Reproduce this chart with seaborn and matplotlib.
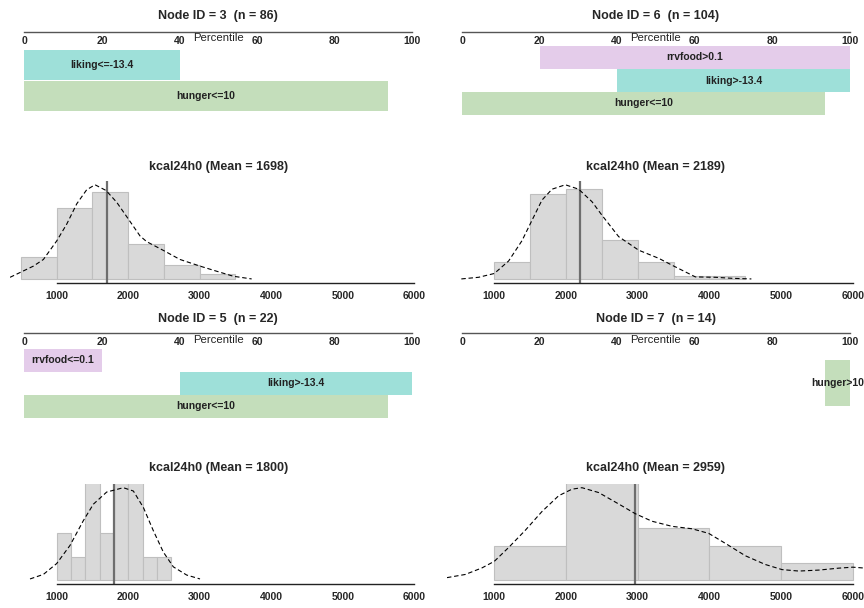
import numpy as np
import pandas as pd
import matplotlib
matplotlib.use("Agg")
import matplotlib.pyplot as plt
import seaborn as sns

sns.set_style("white")
plt.rcParams["font.family"] = ["Liberation Sans", "DejaVu Sans"]

# terminal nodes of the tree, in panel order
node_ids = [3, 6, 5, 7]
node_n = [86, 104, 22, 14]
node_means = [1698, 2189, 1800, 2959]

# split rules on the percentile scale
rule_labels = [
    ["liking<=-13.4", "hunger<=10"],
    ["rrvfood>0.1", "liking>-13.4", "hunger<=10"],
    ["rrvfood<=0.1", "liking>-13.4", "hunger<=10"],
    ["hunger>10"],
]
rule_start = [[0, 0], [20, 40, 0], [0, 40, 0], [93.7]]
rule_end = [[40, 93.7], [100, 100, 93.7], [20, 100, 93.7], [100]]
rule_colors = {"rrvfood": "#E4CCEA", "liking": "#9EE0D9", "hunger": "#C4DEBB"}

# kcal24h0 histograms (counts per bin)
hist_edges = [
    [500, 1000, 1500, 2000, 2500, 3000, 3500],
    [1000, 1500, 2000, 2500, 3000, 3500, 4000, 4500],
    [1000, 1200, 1400, 1600, 1800, 2000, 2200, 2400, 2600],
    [1000, 2000, 3000, 4000, 5000, 6000],
]
hist_counts = [
    [8, 26, 32, 13, 5, 2],
    [7, 35, 37, 16, 7, 1, 1],
    [2, 1, 5, 2, 5, 5, 1, 1],
    [2, 6, 3, 2, 1],
]

# density curves (density x 1e-4)
dens_x = [
    [348, 674, 814, 1000, 1140, 1280, 1419, 1536, 1690, 1839, 2002, 2165, 2258,
     2491, 2724, 3004, 3237, 3470, 3726],
    [540, 781, 1000, 1200, 1386, 1502, 1665, 1805, 1991, 2177, 2363, 2502, 2735,
     3014, 3293, 3502, 3805, 4084, 4316, 4586],
    [627, 814, 1000, 1186, 1373, 1513, 1699, 1932, 2072, 2212, 2351, 2491, 2631,
     2817, 3004],
    [340, 595, 828, 1000, 1200, 1433, 1665, 1898, 2084, 2223, 2456, 2735, 2967,
     3200, 3479, 3758, 3991, 4223, 4502, 4781, 5014, 5247, 5526, 5805, 6000, 6177],
]
dens_y = [
    [0.14, 1.10, 1.67, 3.26, 4.70, 6.44, 7.65, 8.08, 7.59, 6.58, 5.14, 3.69, 3.20,
     2.45, 1.67, 1.10, 0.66, 0.23, 0.0],
    [0.0, 0.13, 0.43, 1.42, 3.02, 4.36, 6.23, 7.09, 7.44, 7.09, 6.10, 5.03, 3.34,
     2.27, 1.63, 1.02, 0.16, 0.13, 0.05, 0.0],
    [0.13, 0.57, 1.62, 3.37, 5.77, 7.36, 8.53, 8.95, 8.63, 7.04, 4.80, 2.73, 1.30,
     0.51, 0.13],
    [0.11, 0.24, 0.51, 0.78, 1.35, 2.06, 2.83, 3.48, 3.75, 3.81, 3.61, 3.14, 2.74,
     2.43, 2.22, 2.12, 1.93, 1.52, 1.01, 0.65, 0.44, 0.38, 0.42, 0.50, 0.54, 0.50],
]
kcal_ticks = [1000, 2000, 3000, 4000, 5000, 6000]
pct_ticks = [0, 20, 40, 60, 80, 100]

W, H = 864, 608
fig = plt.figure(figsize=(W / 100, H / 100), dpi=100)


def px_axes(x0, y0, x1, y1):
    return fig.add_axes([x0 / W, 1 - y1 / H, (x1 - x0) / W, (y1 - y0) / H])


# layout in pixels
col_pct = [(24.3, 412.3), (462, 849.7)]
col_hist = [(9.5, 425.7), (447, 864.2)]
row_node_title = [16, 319.3]
row_pct_spine = [31.7, 332.7]
row_pct_box = [(34.5, 126.5), (337, 429)]
row_pct_label = [38.3, 340]
row_hist_title = [167.3, 468.3]
row_hist_box = [(181, 282.7), (484, 584)]

for i in range(4):
    r, c = i // 2, i % 2
    px0, px1 = col_pct[c]
    hx0, hx1 = col_hist[c]
    cx = (px0 + px1) / 2

    # --- percentile bars of the split rules
    y0, y1 = row_pct_box[r]
    ax = px_axes(px0, y0, px1, y1)
    n_rules = len(rule_labels[i])
    for j, lab in enumerate(rule_labels[i]):
        s, e = rule_start[i][j], rule_end[i][j]
        var = lab.split("<")[0].split(">")[0]
        ax.barh(j, e - s, left=s, height=1.0, color=rule_colors[var], linewidth=0)
        ax.text((s + e) / 2, j, lab, ha="center", va="center", fontsize=7.5,
                fontweight="bold", color="#222222", clip_on=False)
    ax.set_xlim(0, 100)
    ax.set_ylim(n_rules, -1)
    ax.set_yticks([])
    ax.set_xticks(pct_ticks)
    for side in ["top", "left", "right"]:
        ax.spines[side].set_visible(False)
    off = (y0 - row_pct_spine[r]) / (y1 - y0)
    ax.spines["bottom"].set_position(("axes", 1 + off))
    ax.spines["bottom"].set_color("#555555")
    ax.spines["bottom"].set_linewidth(1.0)
    ax.tick_params(axis="x", direction="out", length=2.4, width=0.9, pad=0.5,
                   labelsize=7.5, color="#555555")
    plt.setp(ax.get_xticklabels(), fontweight="bold")
    ax.patch.set_alpha(0)

    fig.text(cx / W, 1 - row_node_title[r] / H,
             f"Node ID = {node_ids[i]}  (n = {node_n[i]})",
             ha="center", va="center", fontsize=9, fontweight="bold")
    fig.text(cx / W, 1 - row_pct_label[r] / H, "Percentile",
             ha="center", va="center", fontsize=8.2, color="#222222")

    # --- histogram with density curve
    y0, y1 = row_hist_box[r]
    hx = px_axes(hx0, y0, hx1, y1)
    edges = hist_edges[i]
    hist_df = pd.DataFrame({
        "kcal": [(a + b) / 2 for a, b in zip(edges[:-1], edges[1:])],
        "count": hist_counts[i],
    })
    sns.histplot(data=hist_df, x="kcal", weights="count", bins=edges,
                 stat="density", color="#D9D9D9", edgecolor="#BFBFBF",
                 linewidth=0.8, alpha=1, ax=hx)
    hx.axvline(node_means[i], color="#6E6E6E", lw=1.6)
    yd = np.array(dens_y[i]) * 1e-4
    sns.lineplot(x=dens_x[i], y=yd, color="black", lw=0.8,
                 linestyle=(0, (4, 2.5)), ax=hx)
    m = yd.max()
    hx.set_ylim(-0.04 * m, 1.04 * m)
    hx.set_xlim(340, 6160)
    hx.set_xticks(kcal_ticks)
    hx.set_yticks([])
    hx.set_xlabel("")
    hx.set_ylabel("")
    for side in ["top", "left", "right"]:
        hx.spines[side].set_visible(False)
    hx.spines["bottom"].set_bounds(1000, 6000)
    hx.spines["bottom"].set_color("#222222")
    hx.spines["bottom"].set_linewidth(1.0)
    hx.tick_params(axis="x", direction="out", length=3.1, width=0.9, pad=3,
                   labelsize=7.5, color="#222222")
    plt.setp(hx.get_xticklabels(), fontweight="bold")
    hx.patch.set_alpha(0)

    fig.text(cx / W, 1 - row_hist_title[r] / H,
             f"kcal24h0 (Mean = {node_means[i]})",
             ha="center", va="center", fontsize=9, fontweight="bold")

fig.savefig("out.png", dpi=100)
